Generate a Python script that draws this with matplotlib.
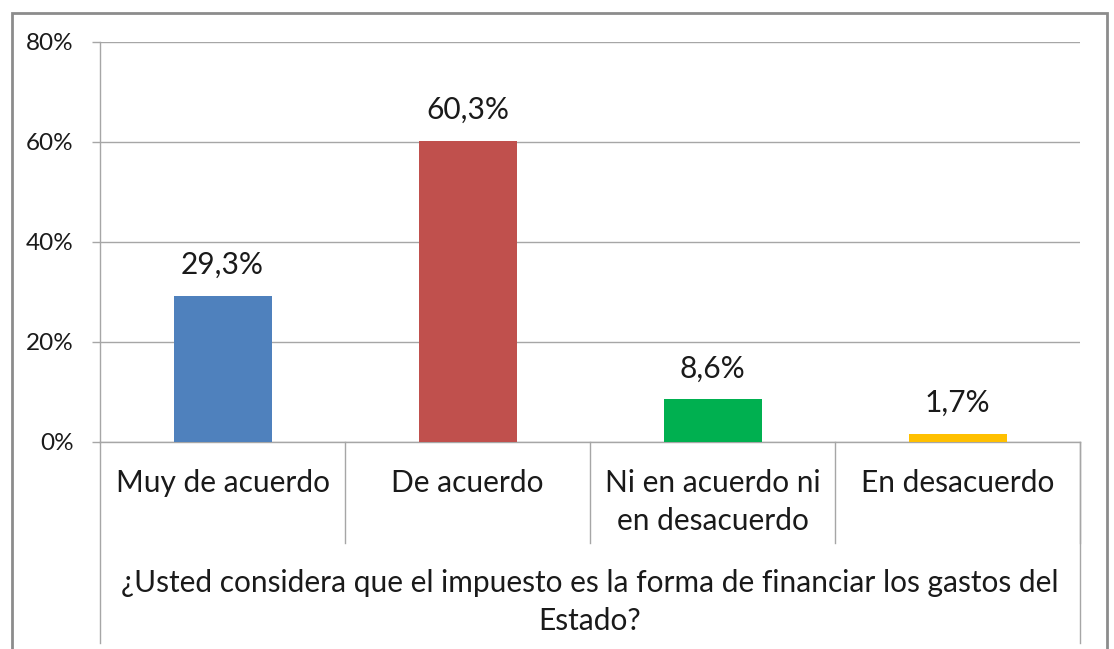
import matplotlib
matplotlib.use("Agg")
import matplotlib.pyplot as plt
from matplotlib.patches import Rectangle
from matplotlib.lines import Line2D
import matplotlib.transforms as mtransforms

categories = ["Muy de acuerdo", "De acuerdo", "Ni en acuerdo ni\nen desacuerdo", "En desacuerdo"]
values = [29.3, 60.3, 8.6, 1.7]
value_labels = ["29,3%", "60,3%", "8,6%", "1,7%"]
colors = ["#4F81BD", "#C0504D", "#00B050", "#FFC000"]
yticks = [0, 20, 40, 60, 80]
ytick_labels = ["0%", "20%", "40%", "60%", "80%"]
question = "¿Usted considera que el impuesto es la forma de financiar los gastos del\nEstado?"

W, H = 1114, 649
plt.rcParams['font.family'] = ['Lato', 'DejaVu Sans']
fig = plt.figure(figsize=(W / 100, H / 100), dpi=100)

def px(x0, y0, x1, y1):
    return [x0 / W, 1 - y1 / H, (x1 - x0) / W, (y1 - y0) / H]

ax = fig.add_axes(px(100, 42, 1080, 442))
grid_c = "#A6A6A6"
txt_c = "#1A1A1A"
FS = 21.5
xs = list(range(len(categories)))
ax.bar(xs, values, width=0.4, color=colors, zorder=3)
ax.set_xlim(-0.5, len(categories) - 0.5)
ax.set_ylim(0, 80)
ax.set_yticks(yticks)
ax.set_yticklabels(ytick_labels, fontsize=17.5, color=txt_c)
ax.tick_params(axis='y', length=6, width=1, color=grid_c, pad=13)
ax.set_xticks([])
for s in ["top", "right"]:
    ax.spines[s].set_visible(False)
for s in ["left", "bottom"]:
    ax.spines[s].set_color(grid_c)
    ax.spines[s].set_linewidth(1)
ax.yaxis.grid(True, color=grid_c, linewidth=1, zorder=0)
ax.set_axisbelow(True)

for x, v, lab in zip(xs, values, value_labels):
    ax.annotate(lab, (x, v), xytext=(0, 12), textcoords="offset points",
                ha="center", va="bottom", fontsize=FS, color=txt_c)

# category label area
trans = mtransforms.blended_transform_factory(ax.transData, fig.transFigure)
def fy(y):
    return 1 - y / H
for b in [0.5, 1.5, 2.5, 3.5]:
    ax.add_line(Line2D([b, b], [fy(442), fy(543)], transform=trans, color=grid_c,
                       linewidth=1, clip_on=False))
for b in [-0.5, 3.5]:
    ax.add_line(Line2D([b, b], [fy(442), fy(643)], transform=trans, color=grid_c,
                       linewidth=1, clip_on=False))
for x, c in zip(xs, categories):
    ax.text(x, fy(469), c, transform=trans, ha="center", va="top", fontsize=FS,
            color=txt_c, linespacing=1.42)
ax.text(1.5, fy(569), question, transform=trans, ha="center", va="top", fontsize=FS,
        color=txt_c, linespacing=1.42)

# outer chart border
fig.patches.append(Rectangle((12 / W, -0.05), (1107 - 12) / W, fy(13) + 0.05,
                             transform=fig.transFigure, fill=False,
                             edgecolor="#8C8C8C", linewidth=2))

fig.savefig("out.png", dpi=100)
